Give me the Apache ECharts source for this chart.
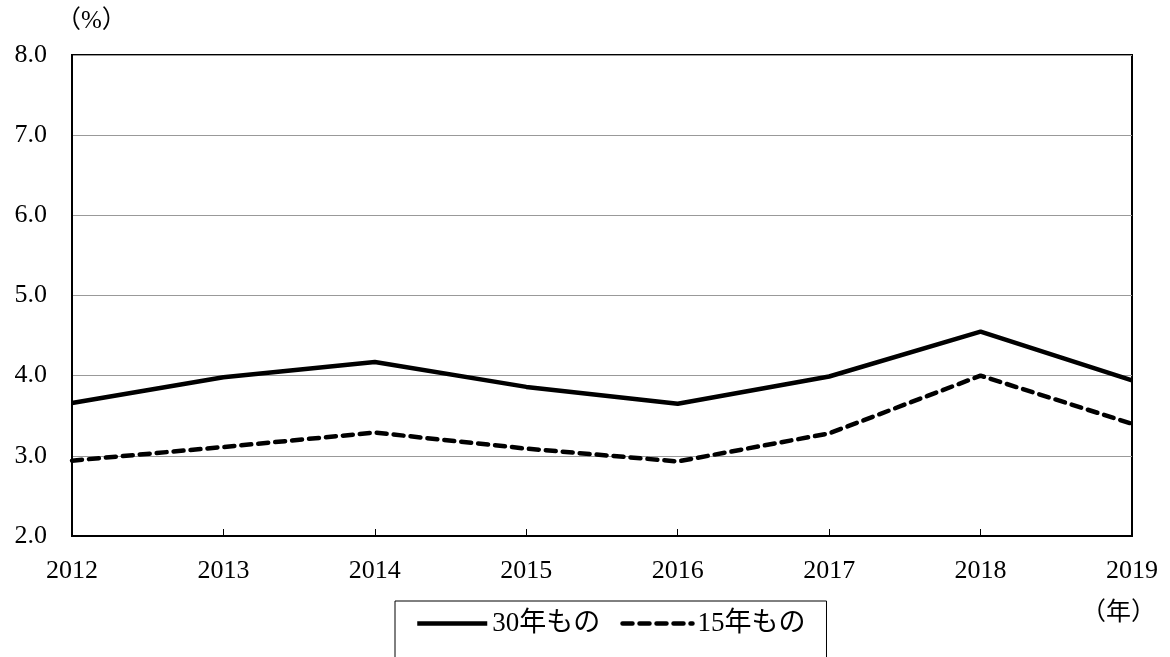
<!DOCTYPE html>
<html>
<head>
<meta charset="utf-8">
<script src="https://cdn.jsdelivr.net/npm/echarts@6/dist/echarts.min.js"></script>
<style>html,body{margin:0;padding:0;background:#fff;}#c{width:1170px;height:657px;}</style>
</head>
<body>
<div id="c"></div>
<script>
const years = ['2012','2013','2014','2015','2016','2017','2018','2019'];
const series30 = [3.66, 3.98, 4.17, 3.86, 3.65, 3.99, 4.55, 3.94];
const series15 = [2.94, 3.11, 3.29, 3.09, 2.93, 3.28, 4.00, 3.40];
const name30 = '30年もの';
const name15 = '15年もの';
const yTicks = [2, 3, 4, 5, 6, 7, 8];

const FONT = '"Liberation Serif", "Noto Sans CJK JP", serif';
const chart = echarts.init(document.getElementById('c'));
chart.setOption({
  animation: false,
  backgroundColor: '#fff',
  textStyle: { fontFamily: FONT },
  grid: { left: 72, right: 38, top: 55, bottom: 121, show: true, borderColor: '#000', borderWidth: 2, containLabel: false },
  legend: {
    left: 395, top: 601,
    padding: [9, 21, 40, 20],
    borderColor: '#000', borderWidth: 1,
    itemWidth: 70, itemHeight: 14, itemGap: 20,
    itemStyle: { opacity: 0 },
    lineStyle: { width: 4.5 },
    textStyle: { fontFamily: FONT, fontSize: 27, color: '#000' },
    data: [name30, name15]
  },
  graphic: [
    { type: 'text', left: 56, top: 9, style: { text: '（%）', font: '25px ' + FONT, fill: '#000' } },
    { type: 'text', left: 1081, top: 601, style: { text: '（年）', font: '25px ' + FONT, fill: '#000' } }
  ],
  xAxis: {
    type: 'category', data: years, boundaryGap: false,
    axisLine: { lineStyle: { color: '#000', width: 2 } },
    axisTick: { inside: true, length: 7, lineStyle: { color: '#000', width: 1 } },
    axisLabel: { color: '#000', fontSize: 26, fontFamily: FONT, margin: 22, showMinLabel: true, showMaxLabel: true },
    splitLine: { show: false }
  },
  yAxis: {
    type: 'value', min: yTicks[0], max: yTicks[yTicks.length - 1], interval: 1,
    axisLine: { show: true, lineStyle: { color: '#000', width: 2 } },
    axisTick: { show: false },
    axisLabel: { color: '#000', fontSize: 26, fontFamily: FONT, margin: 25, formatter: v => v.toFixed(1) },
    splitLine: { show: true, lineStyle: { color: '#999', width: 1 } }
  },
  series: [
    { name: name30, type: 'line', data: series30, symbol: 'none', lineStyle: { color: '#000', width: 4.5 }, itemStyle: { color: '#000' } },
    { name: name15, type: 'line', data: series15, symbol: 'none', lineStyle: { color: '#000', width: 4.5, type: [10, 7], cap: 'round' }, itemStyle: { color: '#000' } }
  ]
});
</script>
</body>
</html>
